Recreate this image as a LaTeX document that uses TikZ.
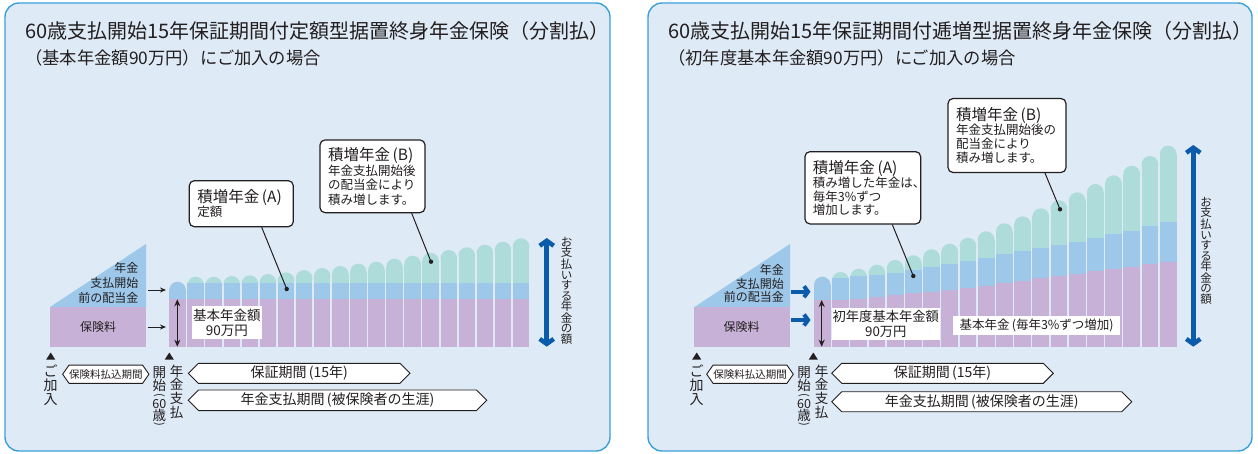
\documentclass[tikz,border=0pt]{standalone}
\usepackage{fontspec}
\setmainfont{Noto Sans CJK JP}
\usepackage{graphicx}
\usetikzlibrary{arrows.meta,shapes.symbols,calc}
\definecolor{panelbg}{HTML}{DEEAF6}
\definecolor{panelline}{HTML}{3AA0DC}
\definecolor{cpurple}{HTML}{C8B1D6}
\definecolor{cblue}{HTML}{9DC8EA}
\definecolor{cgreen}{HTML}{AEDCDA}
\definecolor{darkarrow}{HTML}{0A5BAA}
\definecolor{ink}{HTML}{231F20}
\newcommand\fs[2]{\fontsize{#1}{#2}\selectfont}
\newcommand\mybar[5]{%
  \fill[cgreen] ({#1+\br},{#2+\br}) circle[radius=\br];
  \fill[cgreen] (#1,{#2+\br}) rectangle ({#1+\bw},#3);
  \fill[cblue] (#1,#3) rectangle ({#1+\bw},#4);
  \fill[cpurple] (#1,#4) rectangle ({#1+\bw},#5);}
\newcommand\myfirstbar[4]{%
  \fill[cblue] ({#1+\br},{#2+\br}) circle[radius=\br];
  \fill[cblue] (#1,{#2+\br}) rectangle ({#1+\bw},#3);
  \fill[cpurple] (#1,#3) rectangle ({#1+\bw},#4);}
\newcommand\vparo{\rotatebox{-90}{\fs{11}{11}(}}
\newcommand\vparc{\rotatebox{-90}{\fs{11}{11})}}
\begin{document}
\begin{tikzpicture}[x=1pt,y=-1pt,
  every node/.style={text=ink},
  panel/.style={draw=panelline,fill=panelbg,line width=1.4pt,rounded corners=14pt},
  title/.style={anchor=west,inner sep=0pt,font=\fs{20}{23}},
  subtitle/.style={anchor=west,inner sep=0pt,font=\fs{17.3}{20}},
  callout/.style={draw=ink,fill=white,line width=1.2pt,rounded corners=5pt,align=left,inner xsep=8pt,inner ysep=4pt,font=\fs{12.5}{14.5}},
  leader/.style={draw=ink,line width=1pt},
  whitebox/.style={fill=white,inner sep=0pt,align=center},
  hexa/.style={signal,signal to=west and east,draw=ink,fill=white,line width=0.9pt,inner sep=0pt},
  vtext/.style={align=center,inner sep=0pt,anchor=north},
  vchar/.style={inner sep=0pt,font=\fs{13.5}{13.5}},
  smallarrow/.style={draw=ink,line width=1pt,-{Stealth[length=6pt,width=5pt]}},
  bluearrow/.style={draw=darkarrow,line width=4pt,-{Straight Barb[length=4pt,width=11pt]}},
  bigarrow/.style={draw=darkarrow,line width=4.5pt,{Straight Barb[length=5pt,width=14pt]}-{Straight Barb[length=5pt,width=14pt]}},
  dblarrow/.style={draw=ink,line width=1.2pt,{Stealth[length=7pt,width=6pt]}-{Stealth[length=7pt,width=6pt]}},
  sidelabel/.style={align=right,anchor=east,inner sep=0pt,font=\fs{12}{15}},
]
\useasboundingbox (0,0) rectangle (1258,453);
% panels
\draw[panel] (5,3) rectangle (610,451);
\draw[panel] (648,3) rectangle (1252,451);

% ================= LEFT PANEL =================
\node[title] (t1) at (25,31) {60歳支払開始15年保証期間付定額型据置終身年金保険（分割払）};
\node[subtitle] (s1) at (25,57.5) {（基本年金額90万円）にご加入の場合};

% triangle and premium block
\fill[cblue] (50,307) -- (146,244) -- (146,307) -- cycle;
\fill[cpurple] (50,307) rectangle (146,346.7);
\node[sidelabel] (ltri) at (138.5,283) {年金\\支払開始\\前の配当金};
\node[font=\fs{12}{13},inner sep=0pt] (lprem) at (98,327) {保険料};
\coordinate (la1s) at (148,290); \coordinate (la1e) at (166,290);
\coordinate (la2s) at (148,327); \coordinate (la2e) at (166,327);
\draw[smallarrow] (la1s) -- (la1e);
\draw[smallarrow] (la2s) -- (la2e);

% bars
\def\bw{16.5}\def\br{8.25}
\myfirstbar{169.3}{281.7}{299.3}{346.7}
\foreach \i/\t in {2/276.7,3/276.7,4/276,5/275.3,6/274,7/272.3,8/270,9/268,10/266,11/263.7,12/261.7,13/258.7,14/255.7,15/252.7,16/250,17/247.3,18/244.7,19/241.7,20/238.3}{
  \pgfmathsetmacro\xx{169.3+(\i-1)*18.08}
  \mybar{\xx}{\t}{283}{299.3}{346.7}
}
\coordinate (ld1) at (177.3,299.3); \coordinate (ld2) at (177.3,346.7);
\draw[dblarrow] (ld1) -- (ld2);
\node[whitebox,minimum width=69.7pt,minimum height=33.3pt,font=\fs{13.5}{15}] (lbase) at (226.8,322.7) {基本年金額\\90万円};

% callouts
\node[callout,text width=88pt,minimum height=46pt] (lA) at (241.3,203.7) {{\fs{15.5}{18}積増年金\,(A)}\\定額};
\node[callout,text width=89pt,minimum height=72.7pt] (lB) at (372.5,176.3) {{\fs{15.5}{18}積増年金\,(B)}\\年金支払開始後\\の配当金により\\積み増します。};
\coordinate (lAdot) at (286.7,289);
\coordinate (lBdot) at (431,261.7);
\draw[leader] ([xshift=20.4pt]lA.south) -- (lAdot);
\draw[leader] ([xshift=39.2pt]lB.south) -- (lBdot);
\fill[ink] (lAdot) circle[radius=2.2];
\fill[ink] (lBdot) circle[radius=2.2];

% big arrow
\coordinate (lbig1) at (546.7,238); \coordinate (lbig2) at (546.7,346.7);
\draw[bigarrow] (lbig1) -- (lbig2);
\node[vtext,font=\fs{11.5}{10.5}] (lpay) at (566.7,237) {お\\支\\払\\い\\す\\る\\年\\金\\の\\額};

% bottom timeline
\fill[ink] (46.2,359.5) -- (50.7,352.5) -- (55.2,359.5) -- cycle;
\fill[ink] (164.8,359.5) -- (169.3,352.5) -- (173.8,359.5) -- cycle;
\node[vtext,font=\fs{14}{14}] (ljoin) at (50.7,364.5) {ご\\加\\入};
\node[vtext,font=\fs{13.5}{13.8}] (lstart1) at (176.7,364.5) {年\\金\\支\\払};
\node[vchar] (lsA) at (159.3,372.5) {開};
\node[vchar] (lsB) at (159.3,385.5) {始};
\node[vchar] (lsC) at (159.3,395.5) {\vparo};
\node[vchar,font=\fs{12.5}{13}] (lsD) at (159.3,404) {60};
\node[vchar] (lsE) at (159.3,415.5) {歳};
\node[vchar] (lsF) at (159.3,424.5) {\vparc};
\node[hexa,minimum width=85pt,minimum height=18.3pt,signal pointer angle=110,font=\fs{10.5}{12}] (lhx1) at (105.8,374.2) {保険料払込期間};
\node[hexa,minimum width=221.7pt,minimum height=20pt,signal pointer angle=90,font=\fs{14}{16}] (lhx2) at (299.2,373.3) {保証期間\,(15年)};
\node[hexa,minimum width=298.4pt,minimum height=20.7pt,signal pointer angle=90,font=\fs{14}{16}] (lhx3) at (337.5,400.3) {年金支払期間\,(被保険者の生涯)};

% ================= RIGHT PANEL =================
\node[title] (t2) at (668,31) {60歳支払開始15年保証期間付逓増型据置終身年金保険（分割払）};
\node[subtitle] (s2) at (668,57.5) {（初年度基本年金額90万円）にご加入の場合};

\fill[cblue] (694,307.3) -- (790,244) -- (790,307.3) -- cycle;
\fill[cpurple] (694,307.3) rectangle (790,346.7);
\node[sidelabel,font=\fs{12}{13.7}] (rtri) at (784,283.7) {年金\\支払開始\\前の配当金};
\node[font=\fs{12}{13},inner sep=0pt] (rprem) at (741.7,326.7) {保険料};
\coordinate (ra1s) at (790.5,291.7); \coordinate (ra1e) at (810.5,291.7);
\coordinate (ra2s) at (790.5,320); \coordinate (ra2e) at (810.5,320);
\draw[bluearrow] (ra1s) -- (ra1e);
\draw[bluearrow] (ra2s) -- (ra2e);

\def\bw{16.7}\def\br{8.35}
\myfirstbar{814}{276.7}{300}{346.7}
\foreach \i/\t/\b/\p in {2/272/277.7/300,3/268.7/276/299,4/264.7/275/297.3,5/260/273/295.3,6/255.3/270/293.3,7/249.3/267/292,8/243.7/264/290,9/237.7/261/287.7,10/231.3/258/286,11/223.3/254/283.3,12/216.3/251/281.3,13/208.3/248/278,14/200.3/245/275.7,15/192.3/242/273.7,16/184/238/271,17/175.3/234.3/269.3,18/165.7/231/267,19/156/226/264,20/145.7/221.7/262}{
  \pgfmathsetmacro\xx{814+(\i-1)*18.2}
  \mybar{\xx}{\t}{\b}{\p}{346.7}
}
\coordinate (rd1) at (821.7,300); \coordinate (rd2) at (821.7,346.7);
\draw[dblarrow] (rd1) -- (rd2);
\node[whitebox,minimum width=108.3pt,minimum height=31.7pt,font=\fs{13.3}{15}] (rbase) at (885.8,324.2) {初年度基本年金額\\90万円};
\node[whitebox,minimum width=166.7pt,minimum height=19pt,font=\fs{12.5}{14}] (rbase2) at (1036.7,325.5) {基本年金\,(毎年3\%ずつ増加)};

\node[callout,text width=99.7pt,minimum height=72.3pt,font=\fs{12.5}{13.5}] (rA) at (862.8,187.8) {{\fs{15.5}{18}積増年金\,(A)}\\積み増した年金は、\\毎年3\%ずつ\\増加します。};
\node[callout,text width=102pt,minimum height=74pt,font=\fs{12.5}{14}] (rB) at (1007,135.5) {{\fs{15.5}{18}積増年金\,(B)}\\年金支払開始後の\\配当金により\\積み増します。};
\coordinate (rAdot) at (913.3,276);
\coordinate (rBdot) at (1060,209.3);
\draw[leader] ([xshift=29.5pt]rA.south) -- (rAdot);
\draw[leader] ([xshift=38pt]rB.south) -- (rBdot);
\fill[ink] (rAdot) circle[radius=2.2];
\fill[ink] (rBdot) circle[radius=2.2];

\coordinate (rbig1) at (1193.3,145); \coordinate (rbig2) at (1193.3,346.7);
\draw[bigarrow] (rbig1) -- (rbig2);
\node[vtext,font=\fs{11.5}{10.5}] (rpay) at (1206,197) {お\\支\\払\\い\\す\\る\\年\\金\\の\\額};

\fill[ink] (692.2,359.5) -- (696.7,352.5) -- (701.2,359.5) -- cycle;
\fill[ink] (808.8,359.5) -- (813.3,352.5) -- (817.8,359.5) -- cycle;
\node[vtext,font=\fs{14}{14}] (rjoin) at (696.7,364.5) {ご\\加\\入};
\node[vtext,font=\fs{13.5}{13.8}] (rstart1) at (821.7,364.5) {年\\金\\支\\払};
\node[vchar] (rsA) at (804,372.5) {開};
\node[vchar] (rsB) at (804,385.5) {始};
\node[vchar] (rsC) at (804,395.5) {\vparo};
\node[vchar,font=\fs{12.5}{13}] (rsD) at (804,404) {60};
\node[vchar] (rsE) at (804,415.5) {歳};
\node[vchar] (rsF) at (804,424.5) {\vparc};
\node[hexa,minimum width=86.6pt,minimum height=18.3pt,signal pointer angle=110,font=\fs{10.5}{12}] (rhx1) at (750,374.2) {保険料払込期間};
\node[hexa,minimum width=221.6pt,minimum height=20pt,signal pointer angle=90,font=\fs{14}{16}] (rhx2) at (942.5,373.3) {保証期間\,(15年)};
\node[hexa,minimum width=300pt,minimum height=20pt,signal pointer angle=90,font=\fs{14}{16}] (rhx3) at (981.7,401.7) {年金支払期間\,(被保険者の生涯)};
\end{tikzpicture}
\end{document}
